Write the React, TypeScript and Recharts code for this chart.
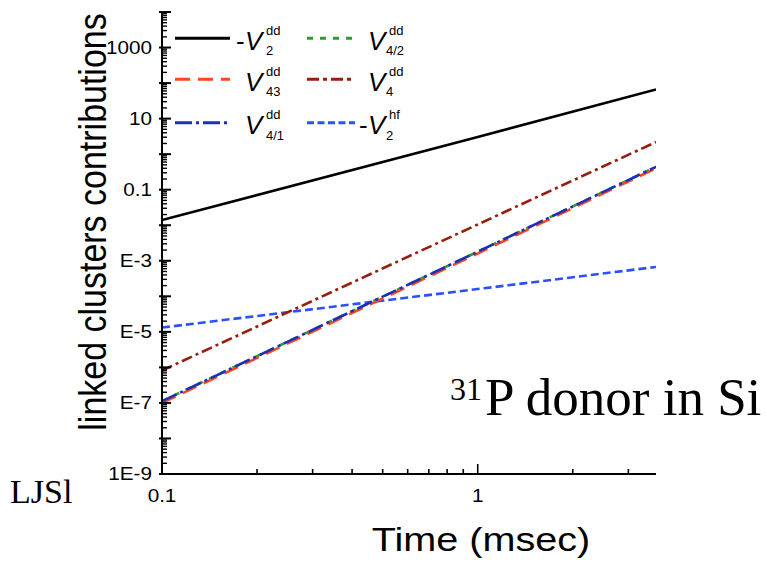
import { LineChart, Line, XAxis, YAxis, Legend, Label } from 'recharts';

// time in msec (log axis)
const times = [0.1, 1, 3.67];

// linked cluster contributions
const v2ddNeg = [0.014, 3.05, 66];
const v42dd = [1.12e-7, 1.8e-3, 0.44];
const v43dd = [1.0e-7, 1.6e-3, 0.4];
const v4dd = [8.2e-7, 0.0105, 2.2];
const v41dd = [1.12e-7, 1.8e-3, 0.44];
const v2hfNeg = [1.32e-5, 1.6e-4, 6.7e-4];

const xLabelValues = [0.1, 1];
const xLabelTexts = ['0.1', '1'];
const yLabelValues = [1e-9, 1e-7, 1e-5, 1e-3, 0.1, 10, 1000];
const yLabelTexts = ['1E-9', 'E-7', 'E-5', 'E-3', '0.1', '10', '1000'];

const rows = times.map((t, i) => ({
  t,
  v2ddNeg: v2ddNeg[i],
  v42dd: v42dd[i],
  v43dd: v43dd[i],
  v4dd: v4dd[i],
  v41dd: v41dd[i],
  v2hfNeg: v2hfNeg[i],
}));

const SANS = '"Liberation Sans", Arial, Helvetica, sans-serif';
const SERIF = '"Liberation Serif", "Times New Roman", serif';

const COLORS = {
  black: '#000000',
  green: '#2a9d2a',
  red: '#ff4622',
  darkRed: '#9a1c0c',
  darkBlue: '#1c2fb8',
  blue: '#2b50ff',
};

// draw order: the overlapping trio ends with blue on top
const series = [
  { key: 'v2ddNeg', color: COLORS.black, dash: undefined },
  { key: 'v2hfNeg', color: COLORS.blue, dash: '8 4' },
  { key: 'v4dd', color: COLORS.darkRed, dash: '11 4 3 4' },
  { key: 'v42dd', color: COLORS.green, dash: '6 7' },
  { key: 'v43dd', color: COLORS.red, dash: '15 8' },
  { key: 'v41dd', color: COLORS.darkBlue, dash: '16 4 3 4' },
];

const legendItems = [
  { col: 0, row: 0, minus: true, sup: 'dd', sub: '2', color: COLORS.black, dash: undefined },
  { col: 1, row: 0, minus: false, sup: 'dd', sub: '4/2', color: COLORS.green, dash: '6 7' },
  { col: 0, row: 1, minus: false, sup: 'dd', sub: '43', color: COLORS.red, dash: '15 8' },
  { col: 1, row: 1, minus: false, sup: 'dd', sub: '4', color: COLORS.darkRed, dash: '12 4 4 4' },
  { col: 0, row: 2, minus: false, sup: 'dd', sub: '4/1', color: COLORS.darkBlue, dash: '17 4 3 4' },
  { col: 1, row: 2, minus: true, sup: 'hf', sub: '2', color: COLORS.blue, dash: '7 3.5' },
];

const logTicks = (lo: number, hi: number, max: number) => {
  const out: number[] = [];
  for (let e = lo; e < hi; e++) {
    for (let m = 1; m < 10; m++) {
      const v = m * Math.pow(10, e);
      if (v <= max * 1.0001) out.push(v);
    }
  }
  return out;
};

const xTicks = logTicks(-1, 1, 3.67);
const yTicks = [...logTicks(-9, 4, 1e4), 1e4];

const isDecade = (v: number) => {
  const lg = Math.log10(v);
  return Math.abs(lg - Math.round(lg)) < 1e-6;
};
const labelIndex = (vals: number[], v: number) =>
  vals.findIndex((t) => Math.abs(Math.log10(t) - Math.log10(v)) < 1e-6);

const YTick = (props: any) => {
  const { x, y, payload } = props;
  const major = isDecade(payload.value);
  const idx = labelIndex(yLabelValues, payload.value);
  return (
    <g>
      <line x1={major ? x - 3 : x} x2={x + (major ? 9 : 5)} y1={y} y2={y} stroke="#000" strokeWidth={major ? 2 : 1.4} />
      {idx >= 0 && (
        <text
          transform={`translate(${x - 10},${y}) scale(1.15,1)`}
          textAnchor="end"
          dy="0.36em"
          fontSize={18}
          fontFamily={SANS}
          fill="#000"
        >
          {yLabelTexts[idx]}
        </text>
      )}
    </g>
  );
};

const BottomTick = (props: any) => {
  const { x, y, payload } = props;
  const major = isDecade(payload.value);
  const idx = labelIndex(xLabelValues, payload.value);
  return (
    <g>
      <line x1={x} x2={x} y1={y} y2={y - (major ? 10 : 5)} stroke="#000" strokeWidth={1.6} />
      {idx >= 0 && (
        <text
          transform={`translate(${x},${y + 28}) scale(1.15,1)`}
          textAnchor="middle"
          fontSize={18}
          fontFamily={SANS}
          fill="#000"
        >
          {xLabelTexts[idx]}
        </text>
      )}
    </g>
  );
};

const TopTick = (props: any) => {
  const { x, y, payload } = props;
  const major = isDecade(payload.value);
  return <line x1={x} x2={x} y1={y} y2={y + (major ? 10 : 5)} stroke="#000" strokeWidth={1.6} />;
};

const renderLegend = () => {
  const rowY = [38.3, 79.3, 122.7];
  const lineX = [[175, 230], [307, 355]];
  const vX = [245, 368];
  return (
    <svg width={767} height={150} style={{ position: 'absolute', left: 0, top: 0, overflow: 'visible' }}>
      {legendItems.map((it) => {
        const y = rowY[it.row];
        const [x1, x2] = lineX[it.col];
        const vx = vX[it.col];
        const supX = vx + 21;
        return (
          <g key={`${it.col}-${it.row}`} fontFamily={SANS} fill="#000">
            <line x1={x1} x2={x2} y1={y} y2={y} stroke={it.color} strokeWidth={3} strokeDasharray={it.dash} />
            {it.minus && (
              <text x={vx - 9} y={y + 11.7} fontSize={26}>
                -
              </text>
            )}
            <text x={vx} y={y + 11.7} fontSize={26} fontStyle="italic">
              V
            </text>
            <text x={supX} y={y - 3.3} fontSize={13}>
              {it.sup}
            </text>
            <text x={it.col === 0 ? supX : supX - 3} y={y + 17} fontSize={13}>
              {it.sub}
            </text>
          </g>
        );
      })}
    </svg>
  );
};

const renderYTitle = () => (
  <text
    transform="translate(106,222) scale(1.12,1) rotate(-90)"
    textAnchor="middle"
    fontSize={34}
    fontFamily={SANS}
    fill="#000"
  >
    linked clusters contributions
  </text>
);

const renderXTitle = () => (
  <text
    transform="translate(481,551) scale(1.2,1)"
    textAnchor="middle"
    fontSize={33}
    fontFamily={SANS}
    fill="#000"
  >
    Time (msec)
  </text>
);

export default function App() {
  return (
    <div style={{ position: 'absolute', left: 0, top: 0, width: 767, height: 562, background: '#fff' }}>
      <LineChart width={767} height={562} data={rows} margin={{ top: 12, right: 111, bottom: 48, left: 102 }}>
        <XAxis
          dataKey="t"
          type="number"
          scale="log"
          domain={[0.1, 3.67]}
          allowDataOverflow
          ticks={xTicks}
          interval={0}
          height={40}
          tick={BottomTick}
          tickLine={false}
          tickSize={0}
          tickMargin={0}
          axisLine={{ stroke: '#000', strokeWidth: 2 }}
        >
          <Label content={renderXTitle} />
        </XAxis>
        <XAxis
          xAxisId="top"
          dataKey="t"
          orientation="top"
          type="number"
          scale="log"
          domain={[0.1, 3.67]}
          allowDataOverflow
          ticks={xTicks}
          interval={0}
          height={0}
          tick={TopTick}
          tickLine={false}
          tickSize={0}
          tickMargin={0}
          axisLine={{ stroke: '#000', strokeWidth: 2 }}
        />
        <YAxis
          type="number"
          scale="log"
          domain={[1e-9, 1e4]}
          allowDataOverflow
          ticks={yTicks}
          interval={0}
          width={60}
          tick={YTick}
          tickLine={false}
          tickSize={0}
          tickMargin={0}
          axisLine={{ stroke: '#000', strokeWidth: 2 }}
        >
          <Label content={renderYTitle} />
        </YAxis>
        <Legend content={renderLegend} wrapperStyle={{ position: 'absolute', left: 0, top: 0, width: 0, height: 0 }} />
        {series.map((s) => (
          <Line
            key={s.key}
            type="linear"
            dataKey={s.key}
            stroke={s.color}
            strokeWidth={2.6}
            strokeDasharray={s.dash}
            dot={false}
            activeDot={false}
            isAnimationActive={false}
          />
        ))}
      </LineChart>
      <svg width={767} height={562} style={{ position: 'absolute', left: 0, top: 0, pointerEvents: 'none' }}>
        <text x={10} y={503} fontSize={34} fontFamily={SERIF} fill="#000">
          LJSl
        </text>
        <text x={450} y={400} fontSize={32} fontFamily={SERIF} fill="#000">
          31
        </text>
        <text x={485} y={415} fontSize={53} fontFamily={SERIF} fill="#000">
          P donor in Si
        </text>
      </svg>
    </div>
  );
}
